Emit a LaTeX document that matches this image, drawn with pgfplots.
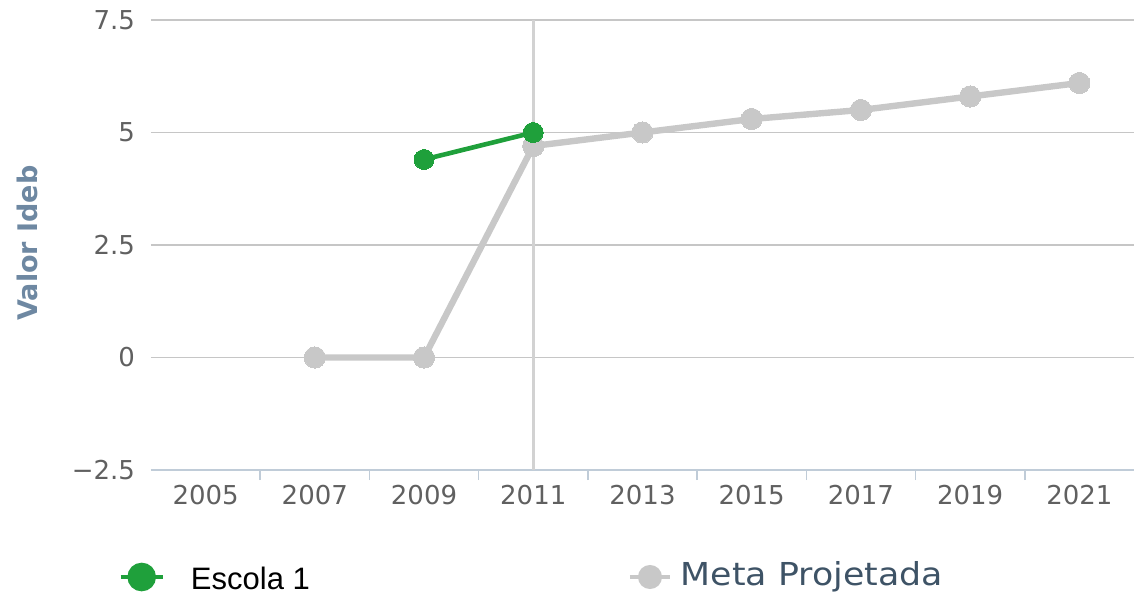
\documentclass[border=0pt]{standalone}
\usepackage{pgfplots}
\pgfplotsset{compat=1.18}
\usepackage{fontspec}
\usepackage{graphicx}
\setmainfont{DejaVu Sans}
\newfontfamily\escfont{Liberation Sans}
\definecolor{gridc}{HTML}{C6C6C6}
\definecolor{axisc}{HTML}{C0CCD8}
\definecolor{crossc}{HTML}{D2D2D2}
\definecolor{tickc}{HTML}{606060}
\definecolor{titlec}{HTML}{6E88A2}
\definecolor{metac}{HTML}{C8C8C8}
\definecolor{escc}{HTML}{1FA03B}
\definecolor{legc}{HTML}{3E5366}
\begin{document}
\begin{tikzpicture}
\useasboundingbox (-75.5pt,-63pt) rectangle (492.5pt,235pt);
\begin{axis}[
  at={(0,0)}, anchor=south west,
  scale only axis, width=491.5pt, height=225pt,
  xmin=-0.5, xmax=8.5, ymin=-2.5, ymax=7.5,
  axis lines*=left,
  y axis line style={draw=none},
  x axis line style={color=axisc, line width=1pt},
  xtick={0,...,8},
  xticklabels={2005,2007,2009,2011,2013,2015,2017,2019,2021},
  minor xtick={0.5,1.5,...,7.5},
  ytick={-2.5,0,2.5,5,7.5},
  yticklabels={−2.5,0,2.5,5,7.5},
  major tick length=0pt,
  minor tick length=5pt,
  tick align=outside,
  minor tick style={color=axisc, line width=0.8pt},
  ymajorgrids,
  major grid style={color=gridc, line width=0.8pt},
  extra x ticks={3},
  extra x tick labels={},
  extra x tick style={grid=major, major grid style={color=crossc, line width=1.3pt}, major tick length=0pt},
  x tick label style={font=\fontsize{13}{15}\selectfont, text=tickc, yshift=-4pt},
  y tick label style={font=\fontsize{13}{15}\selectfont, text=tickc, xshift=-4.5pt},
  legend columns=2,
  legend style={at={(axis description cs:0,0)}, anchor=west, xshift=-16.5pt, yshift=-53.5pt,
    draw=none, fill=none, inner sep=0pt, column sep=0pt, nodes={inner sep=0pt}},
  clip=false,
]
\addplot[color=metac, line width=3.2pt, mark=*, mark size=5.3pt, mark options={fill=metac, draw=metac, line width=0pt},
  forget plot]
  coordinates {(1,0)(2,0)(3,4.7)(4,5.0)(5,5.3)(6,5.5)(7,5.8)(8,6.1)};
\addplot[color=escc, line width=2.3pt, mark=*, mark size=5pt, mark options={fill=escc, draw=escc, line width=0pt},
  legend image code/.code={\draw[color=escc, line width=2.3pt] (0pt,0pt) -- (21pt,0pt);
     \fill[escc] (10.5pt,0pt) circle (6pt);}]
  coordinates {(2,4.4)(3,5.0)};
\addlegendentry{\makebox[231.5pt][l]{\hspace*{13pt}\raisebox{-2.5pt}{\escfont\fontsize{15.5}{18}\selectfont Escola 1}}}
\addlegendimage{color=metac, line width=2pt, mark=*,
  legend image code/.code={\draw[color=metac, line width=2pt] (0pt,0pt) -- (20pt,0pt);
     \fill[metac] (10pt,0pt) circle (5pt);}}
\addlegendentry{\hspace*{4.5pt}\raisebox{2pt}{\color{legc}\fontsize{15.8}{18}\selectfont\scalebox{1.1}[1]{Meta Projetada}}}
\end{axis}
\node[rotate=90, font=\bfseries\fontsize{13.5}{16}\selectfont, text=titlec] at (-62pt,113.5pt) {Valor Ideb};
\end{tikzpicture}
\end{document}
